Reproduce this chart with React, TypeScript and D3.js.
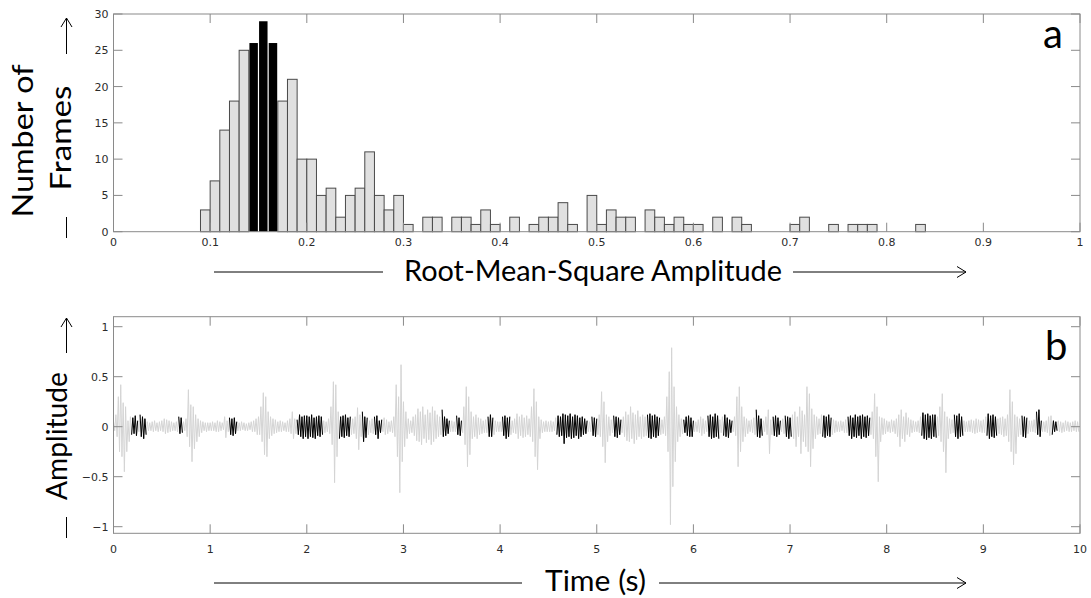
import React from 'react';
import * as d3 from 'd3';

// ---------- Panel a: histogram of frame RMS amplitudes ----------
const rmsBinStarts = [
  0.09, 0.10, 0.11, 0.12, 0.13, 0.14, 0.15, 0.16, 0.17, 0.18, 0.19, 0.20, 0.21, 0.22, 0.23,
  0.24, 0.25, 0.26, 0.27, 0.28, 0.29, 0.30, 0.31, 0.32, 0.33, 0.34, 0.35, 0.36, 0.37, 0.38,
  0.39, 0.40, 0.41, 0.42, 0.43, 0.44, 0.45, 0.46, 0.47, 0.48, 0.49, 0.50, 0.51, 0.52, 0.53,
  0.54, 0.55, 0.56, 0.57, 0.58, 0.59, 0.60, 0.61, 0.62, 0.63, 0.64, 0.65, 0.66, 0.67, 0.68,
  0.69, 0.70, 0.71, 0.72, 0.73, 0.74, 0.75, 0.76, 0.77, 0.78, 0.79, 0.80, 0.81, 0.82, 0.83,
];
const frameCounts = [
  3, 7, 14, 18, 25, 26, 29, 26, 18, 21, 10, 10, 5, 6, 2,
  5, 6, 11, 5, 3, 5, 1, 0, 2, 2, 0, 2, 2, 1, 3,
  1, 0, 2, 0, 1, 2, 2, 4, 1, 0, 5, 1, 3, 2, 2,
  0, 3, 2, 1, 2, 1, 1, 0, 2, 0, 2, 1, 0, 0, 0,
  0, 1, 2, 0, 0, 1, 0, 1, 1, 1, 0, 0, 0, 0, 1,
];
const highlightedBins = [0.14, 0.15, 0.16];
const binWidth = 0.01;
const rmsTicks = [0, 0.1, 0.2, 0.3, 0.4, 0.5, 0.6, 0.7, 0.8, 0.9, 1];
const countTicks = [0, 5, 10, 15, 20, 25, 30];

// ---------- Panel b: waveform envelope (upper / lower extremes per 25 ms) ----------
const sampleStep = 0.025;
const waveUpper = [
  0.05, 0.12, 0.30, 0.42, 0.24, 0.20, 0.06, 0.10, 0.09, 0.11, 0.06, 0.12, 0.10, 0.08, 0.05, 0.04, 0.05, 0.06, 0.04, 0.05,
  0.06, 0.08, 0.07, 0.06, 0.05, 0.04, 0.05, 0.10, 0.09, 0.05, 0.08, 0.37, 0.22, 0.20, 0.12, 0.08, 0.06, 0.05, 0.04, 0.04,
  0.04, 0.05, 0.04, 0.06, 0.05, 0.04, 0.10, 0.06, 0.09, 0.08, 0.09, 0.05, 0.04, 0.05, 0.04, 0.03, 0.04, 0.05, 0.06, 0.08,
  0.10, 0.20, 0.34, 0.30, 0.15, 0.10, 0.08, 0.07, 0.05, 0.06, 0.05, 0.04, 0.06, 0.08, 0.15, 0.08, 0.07, 0.12, 0.10, 0.11,
  0.11, 0.10, 0.12, 0.09, 0.10, 0.11, 0.10, 0.06, 0.05, 0.08, 0.20, 0.45, 0.42, 0.15, 0.10, 0.11, 0.12, 0.09, 0.10, 0.08,
  0.10, 0.19, 0.12, 0.15, 0.10, 0.09, 0.06, 0.08, 0.10, 0.11, 0.06, 0.07, 0.09, 0.07, 0.05, 0.06, 0.10, 0.42, 0.30, 0.62,
  0.25, 0.15, 0.08, 0.06, 0.10, 0.12, 0.18, 0.15, 0.20, 0.12, 0.17, 0.14, 0.20, 0.16, 0.12, 0.10, 0.17, 0.10, 0.08, 0.06,
  0.06, 0.05, 0.11, 0.09, 0.06, 0.20, 0.40, 0.30, 0.15, 0.10, 0.12, 0.09, 0.08, 0.06, 0.07, 0.10, 0.12, 0.09, 0.06, 0.05,
  0.05, 0.10, 0.11, 0.09, 0.10, 0.06, 0.08, 0.13, 0.10, 0.12, 0.09, 0.11, 0.08, 0.20, 0.38, 0.25, 0.10, 0.07, 0.05, 0.06,
  0.05, 0.06, 0.05, 0.09, 0.11, 0.10, 0.13, 0.12, 0.11, 0.13, 0.10, 0.12, 0.11, 0.09, 0.10, 0.08, 0.06, 0.05, 0.10, 0.09,
  0.08, 0.12, 0.35, 0.25, 0.12, 0.10, 0.07, 0.11, 0.10, 0.09, 0.07, 0.10, 0.15, 0.12, 0.20, 0.14, 0.12, 0.16, 0.10, 0.12,
  0.10, 0.12, 0.13, 0.11, 0.12, 0.10, 0.09, 0.07, 0.10, 0.30, 0.55, 0.79, 0.40, 0.20, 0.12, 0.08, 0.07, 0.10, 0.11, 0.09,
  0.06, 0.05, 0.07, 0.10, 0.08, 0.06, 0.11, 0.12, 0.10, 0.13, 0.11, 0.07, 0.10, 0.12, 0.09, 0.07, 0.06, 0.10, 0.30, 0.40,
  0.20, 0.10, 0.08, 0.06, 0.07, 0.09, 0.17, 0.11, 0.08, 0.06, 0.10, 0.17, 0.07, 0.10, 0.11, 0.09, 0.06, 0.08, 0.11, 0.10,
  0.09, 0.12, 0.15, 0.10, 0.20, 0.16, 0.12, 0.40, 0.33, 0.18, 0.12, 0.10, 0.08, 0.12, 0.11, 0.10, 0.12, 0.09, 0.07, 0.06,
  0.05, 0.06, 0.05, 0.07, 0.10, 0.11, 0.09, 0.12, 0.10, 0.11, 0.12, 0.10, 0.11, 0.09, 0.15, 0.33, 0.20, 0.10, 0.09, 0.08,
  0.06, 0.05, 0.07, 0.06, 0.08, 0.12, 0.17, 0.10, 0.14, 0.09, 0.07, 0.06, 0.05, 0.06, 0.10, 0.14, 0.12, 0.13, 0.11, 0.12,
  0.12, 0.10, 0.20, 0.33, 0.15, 0.10, 0.08, 0.07, 0.12, 0.11, 0.13, 0.10, 0.06, 0.05, 0.06, 0.07, 0.06, 0.08, 0.07, 0.06,
  0.07, 0.10, 0.13, 0.11, 0.12, 0.10, 0.08, 0.09, 0.10, 0.08, 0.12, 0.37, 0.25, 0.12, 0.10, 0.08, 0.11, 0.10, 0.09, 0.06,
  0.06, 0.07, 0.15, 0.17, 0.06, 0.05, 0.06, 0.10, 0.11, 0.06, 0.05, 0.06, 0.05, 0.04, 0.06, 0.05, 0.04, 0.05, 0.06, 0.05,
];
const waveLower = [
  -0.04, -0.10, -0.25, -0.30, -0.45, -0.25, -0.15, -0.08, -0.07, -0.09, -0.05, -0.10, -0.12, -0.08, -0.04, -0.04, -0.05, -0.04, -0.05, -0.04,
  -0.05, -0.07, -0.06, -0.05, -0.04, -0.04, -0.05, -0.07, -0.06, -0.04, -0.10, -0.20, -0.35, -0.22, -0.15, -0.10, -0.06, -0.04, -0.05, -0.04,
  -0.04, -0.04, -0.05, -0.05, -0.04, -0.03, -0.11, -0.05, -0.08, -0.09, -0.07, -0.04, -0.04, -0.03, -0.04, -0.04, -0.03, -0.05, -0.05, -0.08,
  -0.08, -0.15, -0.28, -0.30, -0.12, -0.09, -0.07, -0.06, -0.05, -0.05, -0.04, -0.05, -0.05, -0.07, -0.12, -0.07, -0.08, -0.10, -0.12, -0.10,
  -0.12, -0.10, -0.11, -0.12, -0.09, -0.10, -0.08, -0.06, -0.05, -0.07, -0.18, -0.56, -0.30, -0.12, -0.10, -0.11, -0.09, -0.10, -0.08, -0.07,
  -0.12, -0.23, -0.10, -0.15, -0.11, -0.08, -0.06, -0.07, -0.08, -0.12, -0.06, -0.05, -0.08, -0.07, -0.05, -0.06, -0.10, -0.30, -0.66, -0.35,
  -0.20, -0.12, -0.07, -0.06, -0.09, -0.14, -0.15, -0.18, -0.12, -0.16, -0.13, -0.18, -0.15, -0.12, -0.10, -0.08, -0.10, -0.09, -0.07, -0.05,
  -0.05, -0.05, -0.08, -0.09, -0.06, -0.18, -0.40, -0.28, -0.12, -0.10, -0.12, -0.08, -0.07, -0.06, -0.06, -0.10, -0.10, -0.08, -0.05, -0.05,
  -0.05, -0.09, -0.12, -0.10, -0.08, -0.06, -0.07, -0.12, -0.09, -0.11, -0.10, -0.08, -0.10, -0.15, -0.30, -0.43, -0.12, -0.06, -0.05, -0.05,
  -0.05, -0.05, -0.04, -0.08, -0.10, -0.09, -0.17, -0.11, -0.10, -0.12, -0.11, -0.09, -0.12, -0.10, -0.08, -0.07, -0.05, -0.05, -0.09, -0.10,
  -0.08, -0.10, -0.20, -0.36, -0.15, -0.09, -0.06, -0.10, -0.11, -0.08, -0.06, -0.10, -0.14, -0.15, -0.12, -0.17, -0.13, -0.10, -0.12, -0.10,
  -0.09, -0.11, -0.12, -0.10, -0.11, -0.09, -0.08, -0.07, -0.09, -0.25, -0.98, -0.60, -0.35, -0.15, -0.10, -0.07, -0.06, -0.09, -0.10, -0.10,
  -0.05, -0.05, -0.06, -0.09, -0.07, -0.05, -0.10, -0.12, -0.11, -0.10, -0.12, -0.06, -0.09, -0.10, -0.11, -0.06, -0.05, -0.09, -0.40, -0.25,
  -0.15, -0.10, -0.07, -0.05, -0.06, -0.08, -0.10, -0.11, -0.09, -0.05, -0.08, -0.27, -0.08, -0.09, -0.10, -0.08, -0.05, -0.07, -0.10, -0.12,
  -0.10, -0.12, -0.20, -0.10, -0.27, -0.15, -0.20, -0.25, -0.40, -0.22, -0.12, -0.08, -0.07, -0.10, -0.11, -0.09, -0.10, -0.08, -0.06, -0.05,
  -0.05, -0.04, -0.06, -0.06, -0.09, -0.12, -0.10, -0.11, -0.09, -0.12, -0.10, -0.11, -0.09, -0.08, -0.12, -0.30, -0.55, -0.15, -0.08, -0.07,
  -0.05, -0.06, -0.05, -0.07, -0.10, -0.20, -0.12, -0.15, -0.08, -0.10, -0.06, -0.05, -0.05, -0.06, -0.09, -0.12, -0.13, -0.11, -0.12, -0.10,
  -0.11, -0.09, -0.15, -0.25, -0.46, -0.12, -0.07, -0.06, -0.10, -0.12, -0.10, -0.09, -0.05, -0.05, -0.05, -0.06, -0.07, -0.06, -0.05, -0.06,
  -0.06, -0.09, -0.12, -0.10, -0.11, -0.09, -0.07, -0.08, -0.10, -0.09, -0.15, -0.25, -0.38, -0.27, -0.10, -0.08, -0.10, -0.11, -0.07, -0.05,
  -0.05, -0.06, -0.08, -0.10, -0.05, -0.05, -0.06, -0.09, -0.08, -0.05, -0.04, -0.05, -0.06, -0.05, -0.04, -0.05, -0.05, -0.04, -0.05, -0.05,
];
// time intervals (s) of frames whose RMS falls in the highlighted bins
const selectedFrames: [number, number][] = [
  [0.18, 0.25], [0.27, 0.34], [0.67, 0.72], [1.20, 1.28], [1.90, 2.17], [2.33, 2.45],
  [2.57, 2.63], [2.69, 2.78], [3.40, 3.48], [3.55, 3.61], [3.87, 3.93], [4.02, 4.11],
  [4.58, 4.90], [4.95, 5.01], [5.17, 5.25], [5.52, 5.66], [5.90, 6.00], [6.14, 6.27],
  [6.31, 6.40], [6.65, 6.72], [6.82, 6.90], [6.95, 7.02], [7.33, 7.43], [7.59, 7.83],
  [8.36, 8.52], [8.70, 8.79], [9.03, 9.14], [9.40, 9.46], [9.55, 9.61], [9.71, 9.77],
];
const timeTicks = [0, 1, 2, 3, 4, 5, 6, 7, 8, 9, 10];
const ampTicks = [-1, -0.5, 0, 0.5, 1];

const A = { left: 113.5, right: 1080, top: 14, bottom: 231.7 };
const B = { left: 113.5, right: 1080, top: 316.7, bottom: 533.3 };
const AXIS = '#8a8a8a';
const TICKTXT = '#2b2b2b';
const TL = 9;
const tickFont = { fontFamily: 'DejaVu Sans', fontSize: 11, fill: TICKTXT } as const;
const labelFont = { fontFamily: 'Lato', fontSize: 29, fill: '#000' } as const;

function fmt(v: number) {
  const s = String(v);
  return s.replace('-', '\u2212');
}

function VArrow({ x, top, bottom }: { x: number; top: number; bottom: number }) {
  return (
    <g stroke="#000" strokeWidth={1} fill="none">
      <line x1={x} y1={bottom} x2={x} y2={top} />
      <polyline points={`${x - 5.5},${top + 9} ${x},${top} ${x + 5.5},${top + 9}`} />
    </g>
  );
}
function HArrow({ y, left, right }: { y: number; left: number; right: number }) {
  return (
    <g stroke="#000" strokeWidth={1} fill="none">
      <line x1={left} y1={y} x2={right} y2={y} />
      <polyline points={`${right - 9},${y - 5.5} ${right},${y} ${right - 9},${y + 5.5}`} />
    </g>
  );
}

export default function App() {
  const xa = d3.scaleLinear().domain([0, 1]).range([A.left, A.right]);
  const ya = d3.scaleLinear().domain([0, 30]).range([A.bottom, A.top]);
  const xb = d3.scaleLinear().domain([0, 10]).range([B.left, B.right]);
  const yb = d3.scaleLinear().domain([-1.066, 1.1]).range([B.bottom, B.top]);

  const pts: [number, number][] = [];
  waveUpper.forEach((u, i) => {
    const t = i * sampleStep;
    pts.push([t, u]);
    pts.push([t + sampleStep / 2, waveLower[i]]);
  });
  const line = d3
    .line<[number, number]>()
    .x((d) => xb(d[0]))
    .y((d) => yb(d[1]));
  const grayPath = line(pts) || '';
  const blackPaths = selectedFrames.map(([s, e]) => line(pts.filter((p) => p[0] >= s - 1e-9 && p[0] <= e + 1e-9)) || '');

  const isHi = (b: number) => highlightedBins.some((h) => Math.abs(h - b) < 1e-6);

  return (
    <svg width={1091} height={598} style={{ position: 'absolute', left: 0, top: 0, background: '#fff' }}>
      <defs>
        <clipPath id="clipB">
          <rect x={B.left} y={B.top} width={B.right - B.left} height={B.bottom - B.top} />
        </clipPath>
      </defs>
      <rect x={0} y={0} width={1091} height={598} fill="#fff" />

      {/* ---------- Panel a ---------- */}
      <g>
        {rmsBinStarts.map((b, i) => {
          if (frameCounts[i] <= 0) return null;
          const x0 = xa(b);
          const w = xa(b + binWidth) - x0;
          const y0 = ya(frameCounts[i]);
          const h = ya(0) - y0;
          return isHi(b) ? (
            <rect key={i} x={x0 + 0.6} y={y0} width={w - 1.2} height={h} fill="#000" stroke="none" />
          ) : (
            <rect key={i} x={x0} y={y0} width={w} height={h} fill="#e0e0e0" stroke="#4a4a4a" strokeWidth={1} />
          );
        })}
        <rect x={A.left} y={A.top} width={A.right - A.left} height={A.bottom - A.top} fill="none" stroke={AXIS} strokeWidth={1} />
        {rmsTicks.map((t) => (
          <g key={'xa' + t}>
            <line x1={xa(t)} x2={xa(t)} y1={A.bottom} y2={A.bottom - TL} stroke={AXIS} />
            <line x1={xa(t)} x2={xa(t)} y1={A.top} y2={A.top + TL} stroke={AXIS} />
            <text x={xa(t)} y={246} textAnchor="middle" {...tickFont}>{fmt(t)}</text>
          </g>
        ))}
        {countTicks.map((t) => (
          <g key={'ya' + t}>
            <line x1={A.left} x2={A.left + TL} y1={ya(t)} y2={ya(t)} stroke={AXIS} />
            <line x1={A.right} x2={A.right - TL} y1={ya(t)} y2={ya(t)} stroke={AXIS} />
            <text x={A.left - 5} y={ya(t) + 4} textAnchor="end" {...tickFont}>{fmt(t)}</text>
          </g>
        ))}
        <text x={1043} y={48} fontFamily="Lato" fontSize={40} fill="#000">a</text>
        {/* y label */}
        <text transform="translate(33,141) rotate(-90)" textAnchor="middle" {...labelFont} textLength={153} lengthAdjust="spacingAndGlyphs">Number of</text>
        <text transform="translate(71,138) rotate(-90)" textAnchor="middle" {...labelFont} textLength={105} lengthAdjust="spacingAndGlyphs">Frames</text>
        <VArrow x={66.5} top={18} bottom={54} />
        <line x1={66.5} x2={66.5} y1={217} y2={238} stroke="#000" />
        {/* x label */}
        <line x1={214} x2={383} y1={272} y2={272} stroke="#000" />
        <text x={593} y={281} textAnchor="middle" {...labelFont} textLength={378} lengthAdjust="spacingAndGlyphs">Root-Mean-Square Amplitude</text>
        <HArrow y={272} left={793} right={966} />
      </g>

      {/* ---------- Panel b ---------- */}
      <g>
        <g clipPath="url(#clipB)">
          <path d={grayPath} fill="none" stroke="#d4d4d4" strokeWidth={1} />
          {blackPaths.map((d, i) => (
            <path key={i} d={d} fill="none" stroke="#000" strokeWidth={1} />
          ))}
        </g>
        <rect x={B.left} y={B.top} width={B.right - B.left} height={B.bottom - B.top} fill="none" stroke={AXIS} strokeWidth={1} />
        {timeTicks.map((t) => (
          <g key={'xb' + t}>
            <line x1={xb(t)} x2={xb(t)} y1={B.bottom} y2={B.bottom - TL} stroke={AXIS} />
            <line x1={xb(t)} x2={xb(t)} y1={B.top} y2={B.top + TL} stroke={AXIS} />
            <text x={xb(t)} y={553} textAnchor="middle" {...tickFont}>{fmt(t)}</text>
          </g>
        ))}
        {ampTicks.map((t) => (
          <g key={'yb' + t}>
            <line x1={B.left} x2={B.left + TL} y1={yb(t)} y2={yb(t)} stroke={AXIS} />
            <line x1={B.right} x2={B.right - TL} y1={yb(t)} y2={yb(t)} stroke={AXIS} />
            <text x={B.left - 5} y={yb(t) + 4} textAnchor="end" {...tickFont}>{fmt(t)}</text>
          </g>
        ))}
        <text x={1045} y={360} fontFamily="Lato" fontSize={40} fill="#000">b</text>
        <text transform="translate(67,436) rotate(-90)" textAnchor="middle" {...labelFont} textLength={128} lengthAdjust="spacingAndGlyphs">Amplitude</text>
        <VArrow x={66.5} top={318} bottom={353} />
        <line x1={66.5} x2={66.5} y1={517} y2={538} stroke="#000" />
        <line x1={214} x2={522} y1={583} y2={583} stroke="#000" />
        <text x={595.5} y={591} textAnchor="middle" {...labelFont} textLength={101} lengthAdjust="spacingAndGlyphs">Time (s)</text>
        <HArrow y={583} left={659} right={966} />
      </g>
    </svg>
  );
}
